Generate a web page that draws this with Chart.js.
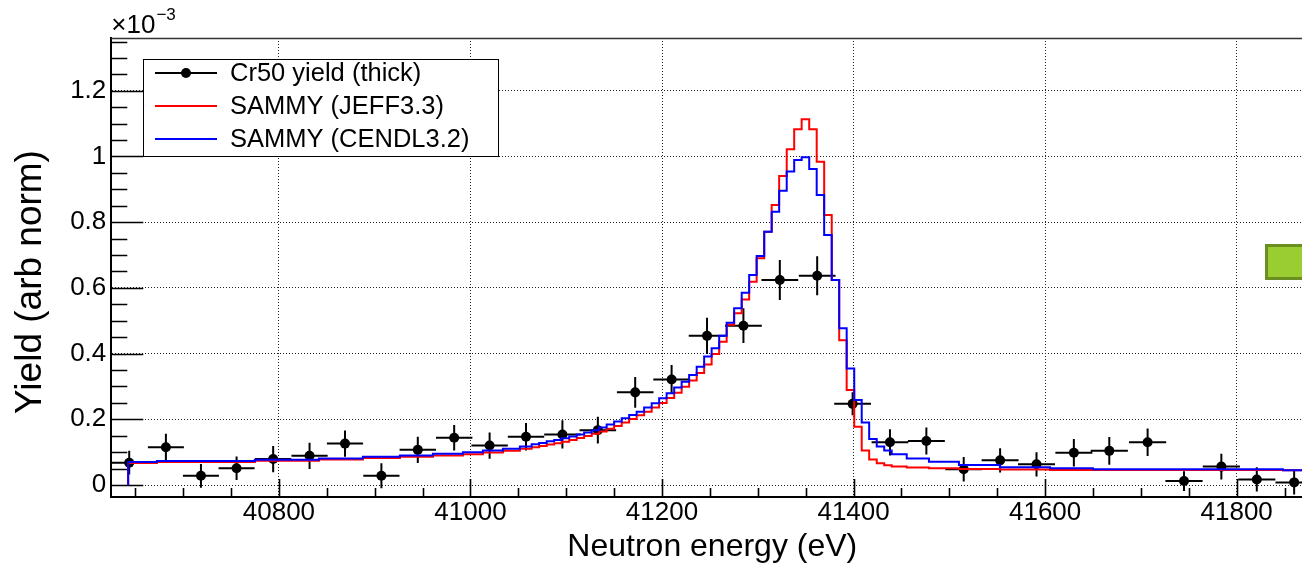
<!DOCTYPE html>
<html>
<head>
<meta charset="utf-8">
<script src="https://cdn.jsdelivr.net/npm/chart.js@4/dist/chart.umd.min.js"></script>
<style>
  body { margin: 0; background: #fff; }
  #wrap { width: 1302px; height: 569px; overflow: hidden; }
  canvas { display: block; }
</style>
</head>
<body>
<div id="wrap"><canvas id="yieldChart" width="1330" height="569"></canvas></div>
<script>
// measured yield (x 1e-3), bin centres in eV
const energy = [40643.7, 40682, 40718.6, 40755.8, 40794, 40832, 40869, 40907, 40945, 40983,
  41020, 41058, 41096, 41133, 41172, 41210, 41247, 41285, 41323, 41362,
  41399, 41438, 41476, 41515, 41553, 41591, 41630, 41667, 41707, 41745,
  41784, 41821, 41860];
const yieldVal = [0.068, 0.115, 0.028, 0.051, 0.079, 0.089, 0.126, 0.028, 0.107, 0.144,
  0.120, 0.147, 0.154, 0.167, 0.282, 0.321, 0.454, 0.485, 0.624, 0.637,
  0.247, 0.130, 0.134, 0.048, 0.075, 0.063, 0.098, 0.104, 0.130, 0.012,
  0.056, 0.017, 0.008];
const yieldErr = [0.036, 0.041, 0.036, 0.036, 0.040, 0.040, 0.040, 0.038, 0.040, 0.039,
  0.040, 0.042, 0.043, 0.041, 0.047, 0.044, 0.055, 0.053, 0.061, 0.059,
  0.035, 0.040, 0.041, 0.037, 0.037, 0.037, 0.042, 0.042, 0.042, 0.030,
  0.039, 0.037, 0.037];
const energyErr = [18.7, 18.8, 18.8, 18.8, 18.9, 18.9, 18.9, 18.9, 19.0, 19.0,
  19.0, 19.0, 19.0, 19.1, 19.1, 19.1, 19.1, 19.2, 19.2, 19.2,
  19.2, 19.2, 19.3, 19.3, 19.3, 19.3, 19.3, 19.4, 19.4, 19.4,
  19.4, 19.4, 19.5];

// SAMMY fits: bin edges (eV) and bin contents (x 1e-3)
const fitEdges = [40642.6, 40672.6, 40774.9, 40841.8, 40887.7, 40926.3, 40960.8, 40992.1, 41013.0, 41033.9,
  41051.6, 41063.9, 41071.7, 41079.6, 41087.4, 41095.2, 41103.1, 41110.9, 41118.7, 41126.6,
  41134.4, 41142.2, 41150.0, 41157.9, 41165.7, 41173.5, 41181.3, 41189.2, 41197.0, 41204.8,
  41212.7, 41220.5, 41228.3, 41236.2, 41244.0, 41251.8, 41259.7, 41267.5, 41275.3, 41283.2,
  41291.0, 41298.8, 41306.7, 41314.5, 41322.3, 41330.2, 41338.0, 41345.8, 41353.7, 41361.5,
  41369.3, 41377.2, 41385.0, 41392.8, 41400.7, 41408.5, 41416.3, 41424.2, 41432.0, 41439.8,
  41455.5, 41478.7, 41510.0, 41552.8, 41605.1, 41649.9, 41848.3, 41880];
const jeffYield = [0.067, 0.070, 0.074, 0.078, 0.082, 0.086, 0.090, 0.094, 0.099, 0.104,
  0.110, 0.115, 0.119, 0.123, 0.127, 0.132, 0.137, 0.143, 0.149, 0.156,
  0.163, 0.171, 0.180, 0.190, 0.201, 0.212, 0.223, 0.236, 0.250, 0.265,
  0.281, 0.299, 0.318, 0.341, 0.367, 0.399, 0.436, 0.488, 0.523, 0.565,
  0.619, 0.690, 0.771, 0.852, 0.941, 1.022, 1.083, 1.113, 1.083, 0.984,
  0.822, 0.624, 0.441, 0.289, 0.177, 0.105, 0.078, 0.066, 0.060, 0.056,
  0.053, 0.051, 0.049, 0.047, 0.046, 0.046, 0.045];
const cendlYield = [0.070, 0.073, 0.077, 0.081, 0.086, 0.090, 0.095, 0.100, 0.105, 0.110,
  0.117, 0.124, 0.128, 0.133, 0.137, 0.142, 0.148, 0.154, 0.160, 0.167,
  0.175, 0.184, 0.193, 0.203, 0.213, 0.223, 0.236, 0.249, 0.264, 0.279,
  0.297, 0.314, 0.335, 0.360, 0.391, 0.416, 0.454, 0.494, 0.538, 0.585,
  0.639, 0.697, 0.771, 0.832, 0.896, 0.954, 0.989, 0.998, 0.962, 0.883,
  0.761, 0.624, 0.477, 0.355, 0.259, 0.190, 0.140, 0.117, 0.105, 0.094,
  0.081, 0.071, 0.061, 0.054, 0.051, 0.048, 0.045];

const xTicks = [40800, 41000, 41200, 41400, 41600, 41800];
const yTicks = [0, 0.2, 0.4, 0.6, 0.8, 1, 1.2];

const FONT = "'Liberation Sans', Arial, sans-serif";

// histogram as a step line: start at 0, one point per bin low edge, close on last edge
function stepPoints(edges, values) {
  const pts = [{ x: edges[0], y: 0 }];
  values.forEach((v, i) => pts.push({ x: edges[i], y: v }));
  pts.push({ x: edges[edges.length - 1], y: values[values.length - 1] });
  return pts;
}

function xBars() {
  const pts = [];
  energy.forEach((e, i) => {
    pts.push({ x: e - energyErr[i], y: yieldVal[i] }, { x: e + energyErr[i], y: yieldVal[i] }, { x: e, y: null });
  });
  return pts;
}

function yBars() {
  const pts = [];
  energy.forEach((e, i) => {
    pts.push({ x: e, y: yieldVal[i] - yieldErr[i] }, { x: e, y: yieldVal[i] + yieldErr[i] }, { x: e, y: null });
  });
  return pts;
}

// ROOT style frame: inward ticks, top line, legend, exponent, y title
const rootFrame = {
  id: 'rootFrame',
  beforeDatasetsDraw(chart) {
    const { ctx, chartArea: a, scales: { x, y } } = chart;
    ctx.save();
    ctx.strokeStyle = '#000';
    ctx.lineWidth = 1.6;
    ctx.beginPath();
    for (let v = 40650; v < 41880; v += 50) {
      const px = Math.round(x.getPixelForValue(v)) + 0.5;
      const len = v % 200 === 0 ? 18 : 9;
      ctx.moveTo(px, a.bottom);
      ctx.lineTo(px, a.bottom - len);
    }
    for (let i = 0; i <= 27; i++) {
      const py = Math.round(y.getPixelForValue(i * 0.05)) + 0.5;
      const len = i % 4 === 0 ? 32 : 16;
      ctx.moveTo(a.left, py);
      ctx.lineTo(a.left + len, py);
    }
    ctx.stroke();
    ctx.strokeStyle = '#333';
    ctx.lineWidth = 1.5;
    ctx.beginPath();
    ctx.moveTo(a.left, a.top + 0.5);
    ctx.lineTo(a.right, a.top + 0.5);
    ctx.stroke();
    ctx.restore();
  },
  afterDraw(chart) {
    const { ctx, chartArea: a } = chart;
    ctx.save();

    // legend box
    const bx = 143, by = 59, bw = 355, bh = 97;
    ctx.fillStyle = '#fff';
    ctx.fillRect(bx, by, bw, bh);
    ctx.strokeStyle = '#000';
    ctx.lineWidth = 1;
    ctx.strokeRect(bx + 0.5, by + 0.5, bw, bh);
    const rows = chart.data.datasets.filter(d => d.inLegend);
    rows.sort((p, q) => p.legendRow - q.legendRow);
    rows.forEach((d, i) => {
      const ly = 73 + i * 33;
      ctx.strokeStyle = d.borderColor;
      ctx.lineWidth = 2;
      ctx.beginPath();
      ctx.moveTo(155, ly);
      ctx.lineTo(217, ly);
      ctx.stroke();
      if (d.legendMarker) {
        ctx.fillStyle = '#000';
        ctx.beginPath();
        ctx.arc(186, ly, 5, 0, Math.PI * 2);
        ctx.fill();
      }
      ctx.fillStyle = '#000';
      ctx.font = '25.5px ' + FONT;
      ctx.textAlign = 'left';
      ctx.textBaseline = 'middle';
      ctx.fillText(d.label, 230, ly + 1);
    });

    // exponent label
    ctx.fillStyle = '#000';
    ctx.textBaseline = 'alphabetic';
    ctx.textAlign = 'left';
    ctx.font = '26px ' + FONT;
    ctx.fillText('\u00d710', a.left, 33);
    const w = ctx.measureText('\u00d710').width;
    ctx.font = '17px ' + FONT;
    ctx.fillText('\u22123', a.left + w + 1, 20);

    // y title
    ctx.save();
    ctx.translate(41, 282);
    ctx.rotate(-Math.PI / 2);
    ctx.font = '37px ' + FONT;
    ctx.textAlign = 'center';
    ctx.textBaseline = 'alphabetic';
    ctx.fillText('Yield (arb norm)', 0, 0);
    ctx.restore();

    // green box at right edge
    ctx.fillStyle = '#9acd32';
    ctx.strokeStyle = '#6b8e23';
    ctx.lineWidth = 3;
    ctx.fillRect(1265, 244, 60, 36);
    ctx.strokeRect(1266.5, 245.5, 60, 33);
    ctx.restore();
  }
};

new Chart(document.getElementById('yieldChart'), {
  type: 'line',
  data: {
    datasets: [
      {
        label: 'SAMMY (CENDL3.2)',
        data: stepPoints(fitEdges, cendlYield),
        stepped: 'before',
        borderColor: '#0000ff',
        borderWidth: 2,
        pointRadius: 0,
        order: 0,
        inLegend: true,
        legendRow: 2
      },
      {
        label: 'SAMMY (JEFF3.3)',
        data: stepPoints(fitEdges, jeffYield),
        stepped: 'before',
        borderColor: '#ff0000',
        borderWidth: 2,
        pointRadius: 0,
        order: 1,
        inLegend: true,
        legendRow: 1
      },
      {
        label: 'Cr50 yield (thick)',
        data: energy.map((e, i) => ({ x: e, y: yieldVal[i] })),
        showLine: false,
        borderColor: '#000',
        pointRadius: 5,
        pointBackgroundColor: '#000',
        pointBorderWidth: 0,
        order: 2,
        inLegend: true,
        legendMarker: true,
        legendRow: 0
      },
      {
        label: 'x errors',
        data: xBars(),
        borderColor: '#000',
        borderWidth: 2,
        pointRadius: 0,
        spanGaps: false,
        order: 3
      },
      {
        label: 'y errors',
        data: yBars(),
        borderColor: '#000',
        borderWidth: 2,
        pointRadius: 0,
        spanGaps: false,
        order: 4
      }
    ]
  },
  options: {
    responsive: false,
    devicePixelRatio: 1,
    animation: false,
    events: [],
    layout: { autoPadding: false, padding: { left: 0, top: 38, right: 16.7, bottom: 0 } },
    plugins: { legend: { display: false }, tooltip: { enabled: false } },
    scales: {
      x: {
        type: 'linear',
        min: 40625,
        max: 41880,
        afterFit: s => { s.height = 72; },
        afterBuildTicks: s => { s.ticks = xTicks.map(v => ({ value: v })); },
        ticks: {
          font: { size: 26, family: FONT },
          color: '#000',
          padding: 0,
          maxRotation: 0,
          autoSkip: false,
          callback: v => String(v)
        },
        grid: { color: '#222', lineWidth: 1, drawTicks: false },
        border: { display: true, color: '#000', width: 2, dash: [1, 2] },
        title: {
          display: true,
          text: 'Neutron energy (eV)',
          color: '#000',
          font: { size: 32, family: FONT },
          padding: { top: 0, bottom: 3 }
        }
      },
      y: {
        type: 'linear',
        min: -0.0365,
        max: 1.3607,
        afterFit: s => { s.width = 111.3; },
        afterBuildTicks: s => { s.ticks = yTicks.map(v => ({ value: v })); },
        ticks: {
          font: { size: 26, family: FONT },
          color: '#000',
          padding: 5,
          callback: v => String(Math.round(v * 10) / 10)
        },
        grid: { color: '#222', lineWidth: 1, drawTicks: false },
        border: { display: true, color: '#000', width: 2, dash: [1, 2] }
      }
    }
  },
  plugins: [rootFrame]
});
</script>
</body>
</html>
